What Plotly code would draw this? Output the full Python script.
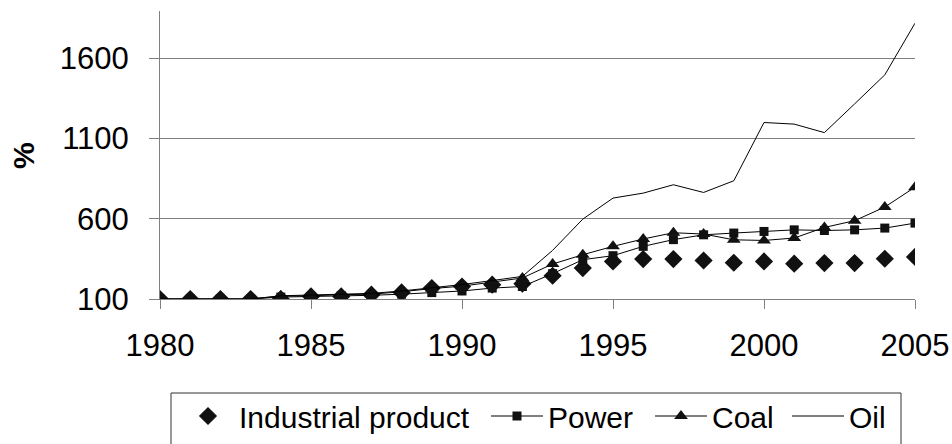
import plotly.graph_objects as go

years = list(range(1980, 2006))

industrial = [100, 100, 100, 100, 100, 116, 116, 127, 141, 168, 178, 189, 195,
              245, 293, 334, 349, 349, 340, 326, 334, 320, 324, 324, 351, 362]
power = [100, 100, 100, 100, 112, 115, 120, 123, 130, 140, 150, 168, 178,
         258, 345, 370, 428, 470, 500, 511, 521, 531, 527, 531, 542, 573]
coal = [100, 100, 100, 100, 118, 120, 127, 130, 145, 165, 180, 205, 231,
        318, 376, 428, 474, 513, 505, 469, 465, 480, 546, 588, 673, 797]
oil = [100, 100, 100, 100, 120, 125, 130, 135, 150, 170, 190, 215, 241,
       403, 598, 729, 760, 812, 764, 837, 1200, 1190, 1137, 1316, 1497, 1819]

y_ticks = [100, 600, 1100, 1600]
x_ticks = [1980, 1985, 1990, 1995, 2000, 2005]

FONT = "Arial, Liberation Sans, sans-serif"
W, H = 952, 444

fig = go.Figure()

fig.add_trace(go.Scatter(
    x=years, y=industrial, name='Industrial product', mode='markers',
    marker=dict(symbol='diamond', size=14, color='#111111'),
    legend='legend'
))
fig.add_trace(go.Scatter(
    x=years, y=power, name='Power', mode='lines+markers',
    line=dict(color='black', width=1),
    marker=dict(symbol='square', size=9, color='#111111'),
    legend='legend2'
))
fig.add_trace(go.Scatter(
    x=years, y=coal, name='Coal', mode='lines+markers',
    line=dict(color='black', width=1),
    marker=dict(symbol='triangle-up', size=12, color='#111111'),
    legend='legend3'
))
fig.add_trace(go.Scatter(
    x=years, y=oil, name='Oil', mode='lines',
    line=dict(color='black', width=1),
    legend='legend4'
))


def legend_at(px_left):
    # one legend per entry so the spacing can follow the original box
    return dict(
        xref='container', yref='container',
        x=px_left / W, xanchor='left',
        y=1 - 416 / H, yanchor='middle',
        borderwidth=0, bgcolor='rgba(0,0,0,0)',
        font=dict(size=30), itemwidth=52,
    )


fig.update_layout(
    width=W,
    height=H,
    margin=dict(l=160, r=37, t=11, b=145, autoexpand=False),
    paper_bgcolor='white',
    plot_bgcolor='white',
    font=dict(family=FONT, size=31, color='black'),
    showlegend=True,
    legend=legend_at(177),
    legend2=legend_at(486),
    legend3=legend_at(650),
    legend4=legend_at(787),
    xaxis=dict(
        range=[1980, 2005],
        tickvals=x_ticks,
        ticks='outside', ticklen=9, tickcolor='#808080',
        showline=True, linecolor='#808080', linewidth=1,
        showgrid=False, zeroline=False,
        ticklabelstandoff=10,
    ),
    yaxis=dict(
        range=[100, 1895],
        tickvals=y_ticks,
        ticks='outside', ticklen=10, tickcolor='#808080',
        showline=True, linecolor='#808080', linewidth=1,
        showgrid=True, gridcolor='#808080', gridwidth=1,
        zeroline=False,
        ticklabelstandoff=14,
    ),
    annotations=[dict(
        text='<b>%</b>', textangle=-90, showarrow=False,
        xref='paper', yref='paper',
        x=(23 - 160) / 755, y=(299 - 156) / 288,
        xanchor='center', yanchor='middle',
        font=dict(size=30),
    )],
    shapes=[dict(
        type='rect', xref='paper', yref='paper',
        x0=(171 - 160) / 755, x1=(901 - 160) / 755,
        y0=-0.6, y1=(299 - 393) / 288,
        line=dict(color='#333333', width=1),
        fillcolor='rgba(0,0,0,0)',
    )],
)

# drop the page's default body margin so the figure sits at the window corner
fig.write_html("out.html", config={'displayModeBar': False},
               post_script="document.body.style.margin='0';")
